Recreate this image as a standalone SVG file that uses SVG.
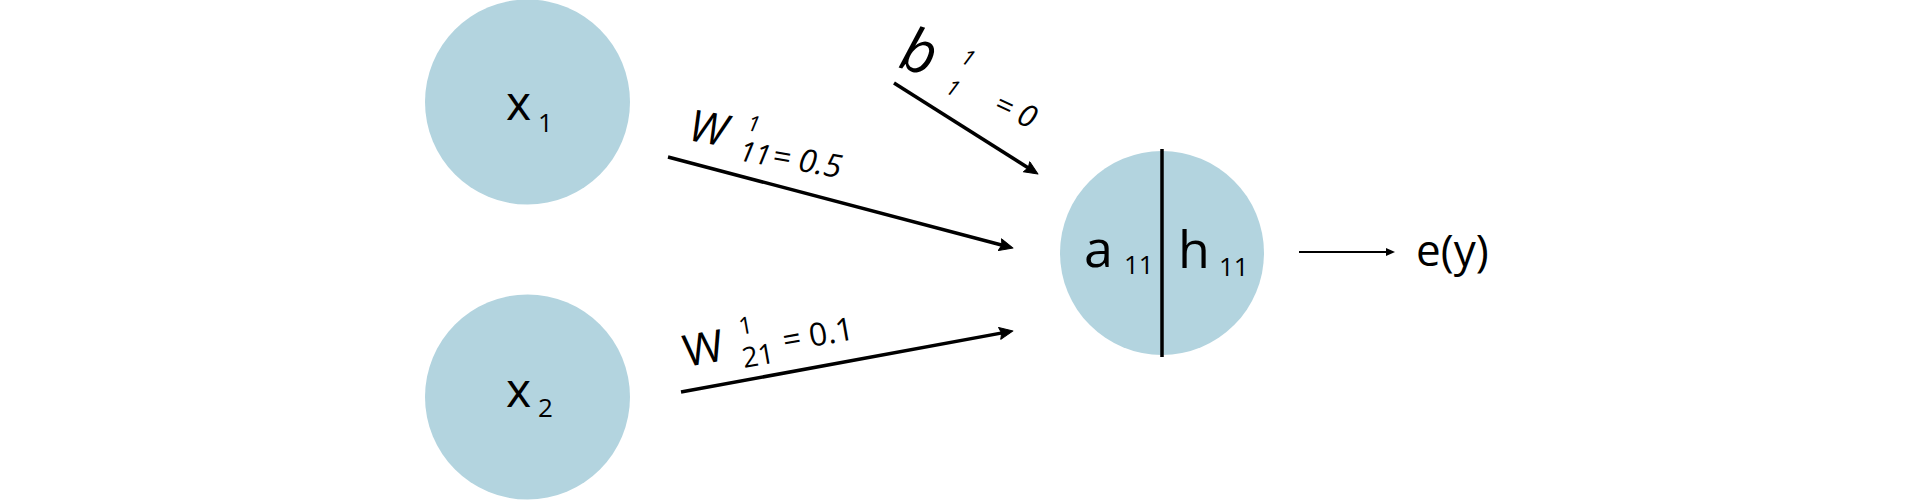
<svg xmlns="http://www.w3.org/2000/svg" width="1920" height="500" viewBox="0 0 1920 500">
  <style>
    .node { fill: #b3d4df; }
    .t { font-family: "Open Sans", "Noto Sans", "DejaVu Sans", sans-serif; fill: #000; }
    .i { font-style: italic; }
    .edge { stroke: #000; stroke-width: 3.5; fill: none; }
    .thin { stroke: #000; stroke-width: 2; fill: none; }
  </style>
  <defs>
    <marker id="ah" markerUnits="userSpaceOnUse" markerWidth="16" markerHeight="14" refX="6" refY="6.5" orient="auto">
      <path d="M0.5,0.5 L14,6.5 L0.5,12.5 L2.5,6.5 z" fill="#000" stroke="#000" stroke-width="1" stroke-linejoin="round"/>
    </marker>
    <marker id="ahs" markerUnits="userSpaceOnUse" markerWidth="12" markerHeight="10" refX="4" refY="4.5" orient="auto">
      <path d="M0,0.5 L9,4.5 L0,8.5 z" fill="#000"/>
    </marker>
  </defs>
  <rect width="1920" height="500" fill="#fff"/>

  <g id="node-x1">
    <circle class="node" cx="527.5" cy="102" r="102.5"/>
    <text class="t" x="506" y="120" font-size="48">x</text>
    <text class="t" x="538" y="132" font-size="26">1</text>
  </g>
  <g id="node-x2">
    <circle class="node" cx="527.5" cy="397" r="102.5"/>
    <text class="t" x="506" y="407" font-size="48">x</text>
    <text class="t" x="538" y="417" font-size="26">2</text>
  </g>
  <g id="node-h">
    <circle class="node" cx="1162" cy="253" r="102"/>
    <line x1="1162" y1="149" x2="1162" y2="357" stroke="#000" stroke-width="3.5"/>
    <text class="t" x="1084" y="267" font-size="52">a</text>
    <text class="t" x="1124" y="274" font-size="26">11</text>
    <text class="t" x="1178" y="268" font-size="52">h</text>
    <text class="t" x="1219" y="276" font-size="26">11</text>
  </g>
  <g id="node-ey">
    <text class="t" x="1416" y="266" font-size="44">e(y)</text>
  </g>

  <g id="connectors">
    <line class="edge" x1="668" y1="157" x2="1005.3" y2="246" marker-end="url(#ah)"/>
    <line class="edge" x1="894" y1="83" x2="1031.2" y2="169.7" marker-end="url(#ah)"/>
    <line class="edge" x1="681" y1="392" x2="1005.1" y2="332.4" marker-end="url(#ah)"/>
    <line class="thin" x1="1299" y1="252" x2="1390" y2="252" marker-end="url(#ahs)"/>
  </g>

  <g id="label-w11" transform="translate(687,140) rotate(10)">
    <text class="t i" x="0" y="0" font-size="44">W</text>
    <text class="t i" x="57" y="-20" font-size="22">1</text>
    <text class="t i" x="54" y="11" font-size="28">11</text>
    <text class="t i" x="87" y="11" font-size="32">= 0.5</text>
  </g>
  <g id="label-b">
    <text class="t i" font-size="60" transform="translate(897,67) rotate(16)">b</text>
    <g transform="translate(900,64) rotate(25)">
      <text class="t i" x="53" y="-27" font-size="22">1</text>
      <text class="t i" x="52" y="7" font-size="22">1</text>
      <text class="t i" x="103" y="4" font-size="31">= 0</text>
    </g>
  </g>
  <g id="label-w21" transform="translate(686,367) rotate(-10)">
    <text class="t" x="0" y="0" font-size="44">W</text>
    <text class="t" x="59" y="-22" font-size="24">1</text>
    <text class="t" x="57" y="11" font-size="28">21</text>
    <text class="t" x="100" y="2" font-size="32">= 0.1</text>
  </g>
</svg>
